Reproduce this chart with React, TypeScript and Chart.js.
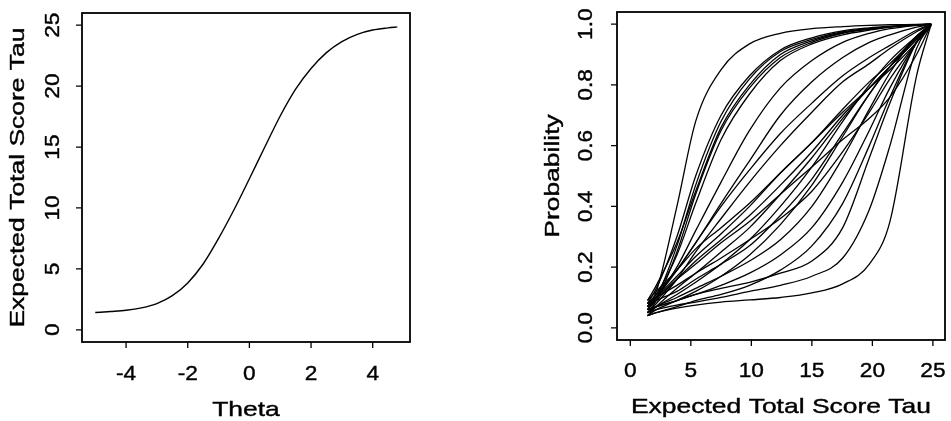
import React, { useEffect, useRef } from "react";
import { Chart, registerables } from "chart.js";

Chart.register(...registerables);

// ---------- Left panel: test characteristic curve ----------
const thetaValues = [-5, -4.5, -4, -3.5, -3, -2.5, -2, -1.5, -1, -0.5, 0, 0.5, 1, 1.5, 2, 2.5, 3, 3.5, 4, 4.5, 4.8];
const tauValues = [1.42, 1.5, 1.6, 1.8, 2.15, 2.8, 3.85, 5.4, 7.5, 9.85, 12.4, 15.0, 17.55, 19.75, 21.45, 22.75, 23.65, 24.25, 24.6, 24.78, 24.86];

const thetaTicks = [-4, -2, 0, 2, 4];
const thetaTickLabels = ["-4", "-2", "0", "2", "4"];
const tauTicks = [0, 5, 10, 15, 20, 25];
const tauTickLabels = ["0", "5", "10", "15", "20", "25"];
const probTicks = [0, 0.2, 0.4, 0.6, 0.8, 1.0];
const probTickLabels = ["0.0", "0.2", "0.4", "0.6", "0.8", "1.0"];

// ---------- Right panel: item curves against expected total score ----------
const itemTau = [1.42, 2.15, 3.85, 5.4, 7.5, 9.85, 12.4, 15.0, 17.55, 19.75, 21.45, 23.65, 24.86];

const itemA = [0.07, 0.12, 0.40, 0.68, 0.85, 0.935, 0.97, 0.985, 0.992, 0.996, 0.998, 0.999, 1.0];
const itemB1 = [0.08, 0.13, 0.30, 0.50, 0.70, 0.83, 0.915, 0.955, 0.978, 0.988, 0.993, 0.998, 1.0];
const itemB2 = [0.06, 0.10, 0.27, 0.47, 0.68, 0.82, 0.91, 0.95, 0.975, 0.986, 0.992, 0.998, 1.0];
const itemB3 = [0.09, 0.14, 0.28, 0.45, 0.66, 0.80, 0.90, 0.945, 0.972, 0.985, 0.992, 0.997, 1.0];
const itemB4 = [0.05, 0.09, 0.25, 0.44, 0.65, 0.79, 0.89, 0.94, 0.97, 0.983, 0.99, 0.997, 1.0];
const itemB5 = [0.07, 0.11, 0.24, 0.41, 0.62, 0.77, 0.88, 0.935, 0.965, 0.98, 0.99, 0.997, 1.0];
const itemC1 = [0.06, 0.10, 0.20, 0.32, 0.48, 0.65, 0.79, 0.88, 0.94, 0.97, 0.985, 0.996, 1.0];
const itemC2 = [0.08, 0.11, 0.19, 0.28, 0.41, 0.55, 0.70, 0.81, 0.89, 0.94, 0.965, 0.99, 1.0];
const itemD1 = [0.07, 0.10, 0.17, 0.235, 0.31, 0.40, 0.51, 0.61, 0.72, 0.81, 0.87, 0.955, 1.0];
const itemD2 = [0.05, 0.08, 0.16, 0.25, 0.36, 0.48, 0.60, 0.71, 0.81, 0.87, 0.92, 0.975, 1.0];
const itemD3 = [0.09, 0.12, 0.19, 0.26, 0.33, 0.41, 0.51, 0.61, 0.71, 0.79, 0.85, 0.94, 0.995];
const itemD4 = [0.06, 0.09, 0.16, 0.22, 0.29, 0.37, 0.47, 0.58, 0.70, 0.79, 0.86, 0.95, 1.0];
const itemD5 = [0.07, 0.10, 0.19, 0.28, 0.40, 0.52, 0.64, 0.74, 0.83, 0.89, 0.93, 0.98, 1.0];
const itemD6 = [0.04, 0.07, 0.13, 0.18, 0.25, 0.33, 0.44, 0.56, 0.69, 0.79, 0.86, 0.95, 1.0];
const itemD7 = [0.08, 0.10, 0.16, 0.21, 0.28, 0.35, 0.44, 0.53, 0.62, 0.69, 0.76, 0.90, 1.0];
const itemE1 = [0.05, 0.07, 0.11, 0.15, 0.21, 0.29, 0.40, 0.53, 0.68, 0.80, 0.88, 0.96, 1.0];
const itemE2 = [0.07, 0.09, 0.12, 0.16, 0.21, 0.27, 0.37, 0.49, 0.64, 0.77, 0.86, 0.95, 1.0];
const itemE3 = [0.04, 0.06, 0.09, 0.12, 0.17, 0.24, 0.34, 0.47, 0.63, 0.77, 0.86, 0.96, 1.0];
const itemE4 = [0.08, 0.10, 0.14, 0.18, 0.23, 0.29, 0.36, 0.45, 0.58, 0.71, 0.82, 0.94, 1.0];
const itemE5 = [0.05, 0.07, 0.10, 0.13, 0.17, 0.22, 0.29, 0.40, 0.56, 0.72, 0.84, 0.96, 1.0];
const itemF1 = [0.06, 0.07, 0.09, 0.11, 0.14, 0.18, 0.24, 0.33, 0.48, 0.65, 0.79, 0.94, 1.0];
const itemF2 = [0.04, 0.05, 0.07, 0.09, 0.11, 0.14, 0.19, 0.27, 0.41, 0.60, 0.76, 0.94, 1.0];
const itemF3 = [0.06, 0.07, 0.09, 0.11, 0.13, 0.15, 0.18, 0.22, 0.33, 0.56, 0.74, 0.94, 1.0];
const itemF4 = [0.05, 0.06, 0.075, 0.085, 0.10, 0.12, 0.14, 0.17, 0.23, 0.39, 0.60, 0.92, 1.0];
const itemG1 = [0.04, 0.05, 0.065, 0.075, 0.085, 0.092, 0.10, 0.115, 0.145, 0.21, 0.35, 0.83, 1.0];

const itemCurves = [
  itemA, itemB1, itemB2, itemB3, itemB4, itemB5, itemC1, itemC2,
  itemD1, itemD2, itemD3, itemD4, itemD5, itemD6, itemD7,
  itemE1, itemE2, itemE3, itemE4, itemE5,
  itemF1, itemF2, itemF3, itemF4, itemG1,
];

const FONT = '"Liberation Sans", Arial, Helvetica, sans-serif';

function drawLabel(ctx: CanvasRenderingContext2D, text: string, x: number, y: number, rotate: boolean, stretch: number, size: number) {
  ctx.save();
  ctx.translate(x, y);
  if (rotate) ctx.rotate(-Math.PI / 2);
  ctx.scale(stretch, 1);
  ctx.font = `${size}px ${FONT}`;
  ctx.textAlign = "center";
  ctx.textBaseline = "alphabetic";
  ctx.fillStyle = "#000";
  ctx.strokeStyle = "#000";
  ctx.lineWidth = 0.4;
  ctx.fillText(text, 0, 0);
  ctx.strokeText(text, 0, 0);
  ctx.restore();
}

type AxisCfg = {
  xTicks: number[];
  xLabels: string[];
  yTicks: number[];
  yLabels: string[];
  xTitle: string;
  yTitle: string;
  xLabelBase: number;
  xTitleBase: number;
  yLabelBase: number;
  yTitleBase: number;
  fontSize: number;
  tickStretch: number;
  titleStretch: number;
  tickLen: number;
};

function makeAxesPlugin(o: AxisCfg) {
  return {
    id: "rAxes",
    afterDraw(chart: any) {
      const ctx: CanvasRenderingContext2D = chart.ctx;
      const a = chart.chartArea;
      const xs = chart.scales.x;
      const ys = chart.scales.y;
      ctx.save();
      ctx.strokeStyle = "#000";
      ctx.lineWidth = 1.8;
      ctx.strokeRect(a.left, a.top, a.right - a.left, a.bottom - a.top);
      ctx.lineWidth = 1.3;
      ctx.beginPath();
      o.xTicks.forEach((v) => {
        const p = xs.getPixelForValue(v);
        ctx.moveTo(p, a.bottom);
        ctx.lineTo(p, a.bottom + o.tickLen);
      });
      o.yTicks.forEach((v) => {
        const p = ys.getPixelForValue(v);
        ctx.moveTo(a.left, p);
        ctx.lineTo(a.left - o.tickLen, p);
      });
      ctx.stroke();
      ctx.restore();
      o.xTicks.forEach((v, i) =>
        drawLabel(ctx, o.xLabels[i], xs.getPixelForValue(v), o.xLabelBase, false, o.tickStretch, o.fontSize)
      );
      o.yTicks.forEach((v, i) =>
        drawLabel(ctx, o.yLabels[i], o.yLabelBase, ys.getPixelForValue(v), true, o.tickStretch, o.fontSize)
      );
      drawLabel(ctx, o.xTitle, (a.left + a.right) / 2, o.xTitleBase, false, o.titleStretch, o.fontSize);
      drawLabel(ctx, o.yTitle, o.yTitleBase, (a.top + a.bottom) / 2, true, o.titleStretch, o.fontSize);
    },
  };
}

function hiddenScale(min: number, max: number, fitKey: "width" | "height", size: number) {
  return {
    type: "linear" as const,
    min,
    max,
    display: true,
    ticks: { display: false },
    grid: { display: false },
    border: { display: false },
    title: { display: false },
    afterFit(scale: any) {
      scale[fitKey] = size;
    },
  };
}

function LeftChart() {
  const ref = useRef<HTMLCanvasElement>(null);
  useEffect(() => {
    if (!ref.current) return;
    const chart = new Chart(ref.current, {
      type: "scatter",
      data: {
        datasets: [
          {
            data: thetaValues.map((t, i) => ({ x: t, y: tauValues[i] })),
            showLine: true,
            borderColor: "#000",
            borderWidth: 1.4,
            pointRadius: 0,
            cubicInterpolationMode: "monotone",
            fill: false,
          },
        ],
      },
      options: {
        responsive: false,
        animation: false,
        events: [],
        layout: { padding: { top: 13, right: 65, left: 0, bottom: 0 } },
        plugins: { legend: { display: false }, tooltip: { enabled: false } },
        scales: {
          x: hiddenScale(-5.43, 5.21, "height", 79),
          y: hiddenScale(-1, 26, "width", 82),
        },
      },
      plugins: [
        makeAxesPlugin({
          xTicks: thetaTicks,
          xLabels: thetaTickLabels,
          yTicks: tauTicks,
          yLabels: tauTickLabels,
          xTitle: "Theta",
          yTitle: "Expected Total Score Tau",
          xLabelBase: 380,
          xTitleBase: 416,
          yLabelBase: 59,
          yTitleBase: 24,
          fontSize: 21,
          tickStretch: 1.08,
          titleStretch: 1.26,
          tickLen: 6,
        }),
      ],
    } as any);
    return () => chart.destroy();
  }, []);
  return <canvas ref={ref} width={475} height={421} style={{ position: "absolute", left: 0, top: 0 }} />;
}

function RightChart() {
  const ref = useRef<HTMLCanvasElement>(null);
  useEffect(() => {
    if (!ref.current) return;
    const chart = new Chart(ref.current, {
      type: "scatter",
      data: {
        datasets: itemCurves.map((curve) => ({
          data: itemTau.map((t, i) => ({ x: t, y: curve[i] })),
          showLine: true,
          borderColor: "#000",
          borderWidth: 1.3,
          pointRadius: 0,
          cubicInterpolationMode: "monotone",
          fill: false,
        })),
      },
      options: {
        responsive: false,
        animation: false,
        events: [],
        layout: { padding: { top: 12, right: 6, left: 0, bottom: 0 } },
        plugins: { legend: { display: false }, tooltip: { enabled: false } },
        scales: {
          x: hiddenScale(-1.1, 26, "height", 81),
          y: hiddenScale(-0.04, 1.04, "width", 142),
        },
      },
      plugins: [
        makeAxesPlugin({
          xTicks: tauTicks,
          xLabels: tauTickLabels,
          yTicks: probTicks,
          yLabels: probTickLabels,
          xTitle: "Expected Total Score Tau",
          yTitle: "Probability",
          xLabelBase: 377,
          xTitleBase: 413,
          yLabelBase: 116.7,
          yTitleBase: 83.5,
          fontSize: 21,
          tickStretch: 1.08,
          titleStretch: 1.26,
          tickLen: 6,
        }),
      ],
    } as any);
    return () => chart.destroy();
  }, []);
  return <canvas ref={ref} width={476} height={421} style={{ position: "absolute", left: 475, top: 0 }} />;
}

export default function App() {
  return (
    <div style={{ position: "fixed", left: 0, top: 0, width: 951, height: 421, background: "#fff", overflow: "hidden" }}>
      <LeftChart />
      <RightChart />
    </div>
  );
}
